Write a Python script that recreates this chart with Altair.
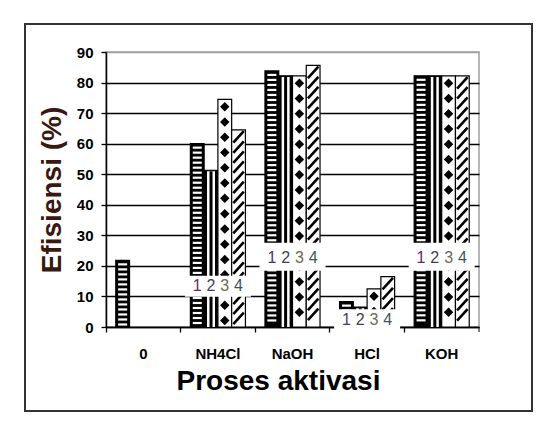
import altair as alt
import pandas as pd

# ---- data ----
categories = ["0", "NH4Cl", "NaOH", "HCl", "KOH"]
series = ["1", "2", "3", "4"]
s1 = [21.8, 60.0, 83.8, 8.3, 82.2]
s2 = [None, 51.3, 82.2, 6.5, 82.2]
s3 = [None, 74.5, 82.2, 12.5, 82.2]
s4 = [None, 64.5, 85.6, 16.5, 82.2]
label_y = [None, 13.4, 22.6, 2.2, 22.6]
box_lo = [None, 9.9, 18.4, -1.4, 18.4]
box_hi = [None, 16.8, 27.6, 5.8, 27.6]
label_colors = ["#5e2c6e", "#3c4254", "#6e6a52", "#3f5462"]
y_ticks = list(range(0, 100, 10))

FONT = "Liberation Sans"

rows = []
for s, vals in zip(series, [s1, s2, s3, s4]):
    for c, v in zip(categories, vals):
        if v is not None:
            rows.append({"cat": c, "series": s, "value": v})
bars = pd.DataFrame(rows)

# decorative fill patterns derived from each bar's value
hstripe, diam, hatch = [], [], []
for r in rows:
    v = r["value"]
    if r["series"] == "1":
        y = v - 1.3
        while y > 0.6:
            hstripe.append({"cat": r["cat"], "series": "1", "value": y})
            y -= 1.64
    elif r["series"] == "3":
        y = v - 2.4
        while y > 1.5:
            diam.append({"cat": r["cat"], "series": "3", "value": y})
            y -= 5.0
    elif r["series"] == "4":
        y = v - 2.3
        while y > 2.0:
            hatch.append({"cat": r["cat"], "series": "4", "value": y})
            y -= 3.3
hstripe = pd.DataFrame(hstripe)
diam = pd.DataFrame(diam)
hatch = pd.DataFrame(hatch)
s2df = bars[bars.series == "2"].assign(top=lambda d: d.value - 0.35)

lab_rows, box_rows = [], []
for c, ly, lo, hi in zip(categories, label_y, box_lo, box_hi):
    if ly is None:
        continue
    box_rows.append({"cat": c, "lo": lo, "hi": hi})
    for s in series:
        lab_rows.append({"cat": c, "series": s, "ly": ly})
labs = pd.DataFrame(lab_rows)
boxes = pd.DataFrame(box_rows)

xscale = alt.Scale(domain=categories, paddingInner=0, paddingOuter=0)
xaxis = alt.Axis(title="Proses aktivasi", bandPosition=0,
                 tickSize=5, labelPadding=14, labelAngle=0, labelFontSize=15,
                 labelFontWeight="bold", titleFontSize=28, titleFontWeight="bold",
                 titleX=172, titlePadding=6, grid=False, domainWidth=1.5,
                 titleColor="black")
yscale = alt.Scale(domain=[0, 90], nice=False)
yaxis = alt.Axis(title="Efisiensi (%)", values=y_ticks, tickSize=5, labelPadding=8,
                 labelFontSize=15, labelFontWeight="bold", titleFontSize=28,
                 titleFontWeight="bold", titleColor="#3a170f", titlePadding=10,
                 grid=True, gridWidth=1.3,
                 gridColor={"condition": {"test": "datum.value === 90", "value": "#a0a0a0"},
                            "value": "#000000"},
                 domainWidth=1.5)
xo = alt.XOffset("series:N", scale=alt.Scale(domain=series, paddingOuter=0.71, paddingInner=0))


def X():
    return alt.X("cat:N", scale=xscale, sort=categories, axis=xaxis, title="Proses aktivasi")


def Y(field):
    return alt.Y(field, type="quantitative", scale=yscale, axis=yaxis, title="Efisiensi (%)")


frame = alt.Chart(pd.DataFrame({"a": [0]})).mark_rect(
    filled=False, stroke="#333333", strokeWidth=2
).encode(x=alt.value(-81), x2=alt.value(426), y=alt.value(-28), y2=alt.value(359))

base = alt.Chart(bars).mark_bar(stroke="black", strokeWidth=1.2).encode(
    x=X(), xOffset=xo, y=Y("value"),
    fill=alt.Fill("series:N", scale=alt.Scale(domain=series,
                  range=["black", "black", "white", "white"]), legend=None),
)

stripes = alt.Chart(hstripe).mark_tick(orient="horizontal", color="white",
                                       thickness=2.2, size=9, opacity=1).encode(
    x=X(), xOffset=xo, y=Y("value"))

v_white = alt.Chart(s2df).mark_bar(width=8, color="white").encode(
    x=X(), xOffset=xo, y=Y("top"), y2=alt.Y2("zero:Q")
).transform_calculate(zero="0")
v_black = alt.Chart(s2df).mark_bar(width=3, color="black").encode(
    x=X(), xOffset=xo, y=Y("top"), y2=alt.Y2("zero:Q")
).transform_calculate(zero="0")

diamonds = alt.Chart(diam).mark_point(shape="diamond", filled=True, color="black",
                                      size=90, opacity=1).encode(
    x=X(), xOffset=xo, y=Y("value"))

hatches = alt.Chart(hatch).mark_point(shape="M-1,1.1L1,-1.1", filled=False,
                                      stroke="black", strokeWidth=2.6, size=110,
                                      opacity=1).encode(
    x=X(), xOffset=xo, y=Y("value"))

wbox = alt.Chart(boxes).mark_bar(width=66, color="white").encode(
    x=X(), y=Y("lo"), y2=alt.Y2("hi"))

texts = alt.Chart(labs).mark_text(font=FONT, fontSize=16, baseline="middle").encode(
    x=X(), xOffset=xo, y=Y("ly"), text="series:N",
    color=alt.Color("series:N", scale=alt.Scale(domain=series, range=label_colors), legend=None),
)

endtick = alt.Chart(pd.DataFrame({"a": [0]})).mark_rule(color="black", strokeWidth=1).encode(
    x=alt.value(373), y=alt.value(275), y2=alt.value(280))

chart = alt.layer(frame, base, stripes, v_white, v_black, diamonds, hatches, wbox, texts, endtick).properties(
    width=373, height=275,
    autosize=alt.AutoSizeParams(type="none"),
    padding={"left": 106, "top": 52, "right": 75, "bottom": 109},
    background="white",
).configure_axis(
    labelFont=FONT, titleFont=FONT, domainColor="black", tickColor="black",
    labelColor="black", tickWidth=1.3,
).configure_view(stroke="#a0a0a0", strokeWidth=1.5)

chart.save("out.html", embed_options={"renderer": "svg", "actions": False})
